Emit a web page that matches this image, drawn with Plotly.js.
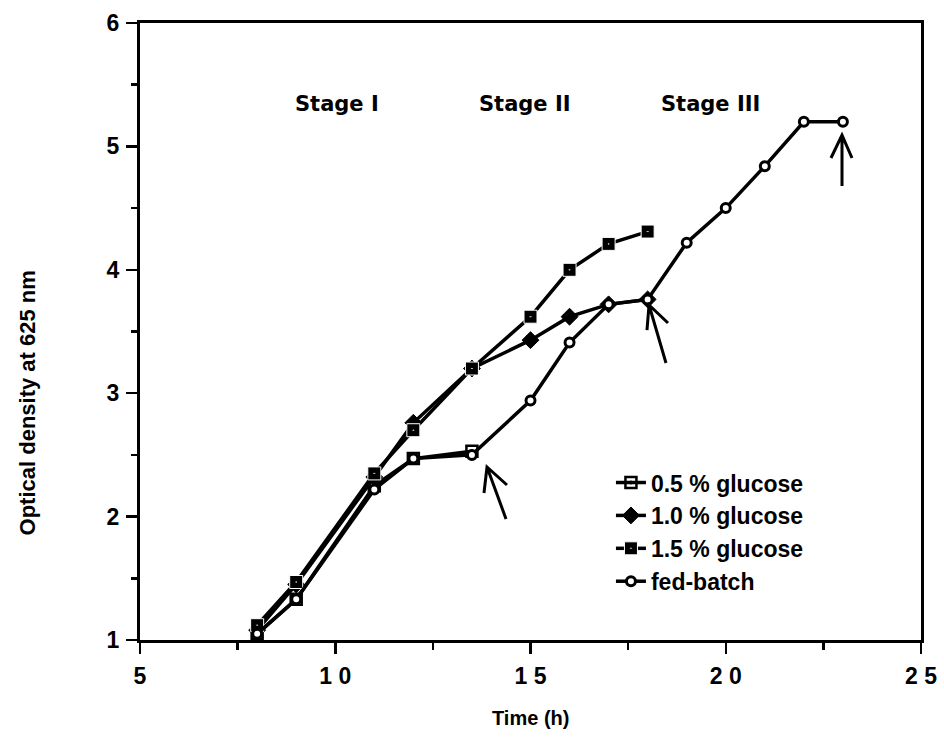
<!DOCTYPE html>
<html>
<head>
<meta charset="utf-8">
<script src="https://cdn.plot.ly/plotly-3.0.1.min.js"></script>
<style>html,body{margin:0;padding:0;background:#fff;}#chart{width:944px;height:747px;}</style>
</head>
<body>
<div id="chart"></div>
<script>
// ---- data ----
const seriesNames = ["0.5 % glucose", "1.0 % glucose", "1.5 % glucose", "fed-batch"];
const time05 = [8, 9, 11, 12, 13.5];
const od05   = [1.05, 1.33, 2.25, 2.47, 2.53];
const time10 = [8, 9, 11, 12, 13.5, 15, 16, 17, 18];
const od10   = [1.08, 1.45, 2.32, 2.76, 3.20, 3.43, 3.62, 3.72, 3.76];
const time15 = [8, 9, 11, 12, 13.5, 15, 16, 17, 18];
const od15   = [1.12, 1.47, 2.35, 2.70, 3.20, 3.62, 4.00, 4.21, 4.31];
const timeFed = [8, 9, 11, 12, 13.5, 15, 16, 17, 18, 19, 20, 21, 22, 23];
const odFed   = [1.05, 1.33, 2.22, 2.47, 2.50, 2.94, 3.41, 3.72, 3.76, 4.22, 4.50, 4.84, 5.20, 5.20];
const xTickVals = [5, 10, 15, 20, 25];
const xTickText = ["5", "1 0", "1 5", "2 0", "2 5"];
const yTickVals = [1, 2, 3, 4, 5, 6];
const stageLabels = ["Stage I", "Stage II", "Stage III"];
const stageX = [10.04, 14.86, 19.6];
const stageY = 5.34;
// arrows: [tail, tip, wing1, wing2] in data units
const arrows = [
  [[14.373, 1.981], [13.886, 2.402], [13.809, 2.191], [14.398, 2.256]],
  [[18.470, 3.245], [18.035, 3.715], [17.983, 3.512], [18.521, 3.569]],
  [[22.977, 4.679], [22.977, 5.092], [22.695, 4.906], [23.233, 4.906]]
];

const F = "Liberation Sans, Arial, Helvetica, sans-serif";
const lineStyle = {color: "#000", width: 3.5};

const traces = [
  {x: time05, y: od05, name: seriesNames[0], mode: "lines+markers", line: lineStyle,
   marker: {symbol: "square-open-dot", size: 11, color: "#000", line: {color: "#000", width: 2.5}}},
  {x: time10, y: od10, name: seriesNames[1], mode: "lines+markers", line: lineStyle,
   marker: {symbol: "diamond", size: 13, color: "#000", line: {color: "#000", width: 1}}},
  {x: time15, y: od15, name: seriesNames[2], mode: "lines+markers", line: lineStyle,
   marker: {symbol: "square-dot", size: 13, color: "#000", line: {color: "#fff", width: 1}}},
  {x: timeFed, y: odFed, name: seriesNames[3], mode: "lines+markers", line: lineStyle,
   marker: {symbol: "circle", size: 9, color: "#fff", line: {color: "#000", width: 3}}}
];

const shapes = arrows.map(a => ({
  type: "path", xref: "x", yref: "y",
  path: `M${a[0][0]},${a[0][1]} L${a[1][0]},${a[1][1]} M${a[2][0]},${a[2][1]} L${a[1][0]},${a[1][1]} L${a[3][0]},${a[3][1]}`,
  line: {color: "#000", width: 3}
}));

const annotations = stageLabels.map((t, i) => ({
  x: stageX[i], y: stageY, xref: "x", yref: "y", text: t, showarrow: false,
  font: {family: "DejaVu Sans", size: 21, color: "#000", weight: 700}
}));
annotations.push({
  x: -0.1447, y: 0.385, xref: "paper", yref: "paper", text: "Optical density at 625 nm",
  textangle: -90, showarrow: false, xanchor: "center", yanchor: "middle",
  font: {family: F, size: 22, color: "#000", weight: 700}
});
annotations.push({
  x: 0.5006, y: -0.126, xref: "paper", yref: "paper", text: "Time (h)",
  showarrow: false, xanchor: "center", yanchor: "middle",
  font: {family: F, size: 20, color: "#000", weight: 700}
});

const layout = {
  width: 944, height: 747,
  margin: {l: 140, r: 23, t: 23, b: 107},
  paper_bgcolor: "#fff", plot_bgcolor: "#fff",
  showlegend: true,
  legend: {x: 0.603, y: 0.29, xanchor: "left", yanchor: "top", bgcolor: "rgba(0,0,0,0)",
           itemwidth: 30,
           font: {family: F, size: 23, color: "#000", weight: 700}},
  xaxis: {range: [5, 25], tickmode: "array", tickvals: xTickVals, ticktext: xTickText,
          showgrid: false, zeroline: false, showline: true, mirror: true, linecolor: "#000", linewidth: 3,
          ticks: "outside", ticklen: 11, tickwidth: 2.5, tickcolor: "#000", ticklabelstandoff: 2,
          minor: {tickmode: "linear", tick0: 5, dtick: 2.5, ticks: "outside", ticklen: 7, tickwidth: 2.5, tickcolor: "#000", showgrid: false},
          tickfont: {family: F, size: 23, color: "#000", weight: 700}},
  yaxis: {range: [1, 6], tickmode: "array", tickvals: yTickVals,
          showgrid: false, zeroline: false, showline: true, mirror: true, linecolor: "#000", linewidth: 3,
          ticks: "outside", ticklen: 11, tickwidth: 2.5, tickcolor: "#000", ticklabelstandoff: 2,
          minor: {tickmode: "linear", tick0: 1, dtick: 0.5, ticks: "outside", ticklen: 6, tickwidth: 2.5, tickcolor: "#000", showgrid: false},
          tickfont: {family: F, size: 23, color: "#000", weight: 700}},
  shapes: shapes,
  annotations: annotations
};

Plotly.newPlot("chart", traces, layout, {displayModeBar: false, staticPlot: true});
</script>
</body>
</html>
